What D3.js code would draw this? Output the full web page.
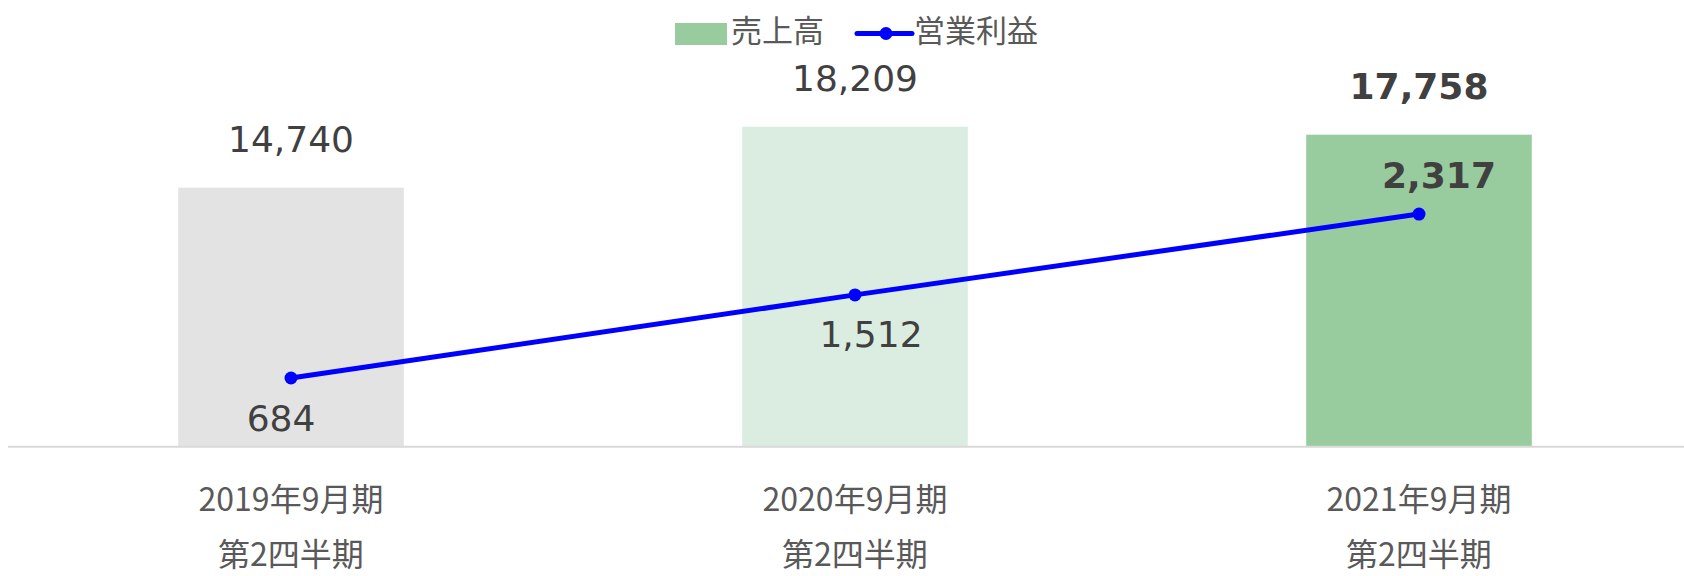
<!DOCTYPE html>
<html><head><meta charset="utf-8">
<script src="https://cdn.jsdelivr.net/npm/d3@7"></script>
<style>html,body{margin:0;padding:0;background:#fff;}svg{display:block;}</style>
</head><body>
<svg id="chart" width="1684" height="576"></svg>
<script>
const categories = ["2019年9月期|第2四半期", "2020年9月期|第2四半期", "2021年9月期|第2四半期"];
const sales = [14740, 18209, 17758];
const profit = [684, 1512, 2317];
const barColors = ["#e3e3e4", "#dbede1", "#98cb9e"];
const seriesNames = ["売上高", "営業利益"];
const boldLabel = [false, false, true];

const W = 1684, H = 576;
const svg = d3.select("#chart");
const x = d3.scaleBand().domain(categories).range([9, 1701]).paddingInner(0.6).paddingOuter(0.3);
const y = d3.scaleLinear().domain([0, 20000]).range([446.7, 95.3]);
const y2 = d3.scaleLinear().domain([0, 3500]).range([446.7, 95.3]);
const cx = c => x(c) + x.bandwidth() / 2;

// bars
svg.append("g").selectAll("rect").data(categories).join("rect")
  .attr("x", d => x(d)).attr("width", x.bandwidth())
  .attr("y", (d, i) => y(sales[i])).attr("height", (d, i) => y(0) - y(sales[i]))
  .attr("fill", (d, i) => barColors[i]);

// axis
const axis = d3.axisBottom(x).tickSize(0).tickFormat("");
const ag = svg.append("g").attr("transform", `translate(0,${y(0)})`).call(axis);
ag.select(".domain").remove();
svg.append("line").attr("x1", 8).attr("x2", W).attr("y1", y(0)).attr("y2", y(0))
  .attr("stroke", "#d9d9d9").attr("stroke-width", 2);

// category labels
const catG = svg.append("g");
categories.forEach(c => {
  const parts = c.split("|");
  const t = catG.append("text").attr("x", cx(c)).attr("text-anchor", "middle")
    .attr("font-family", "'Noto Sans CJK JP', sans-serif").attr("font-size", 32).attr("fill", "#595959");
  t.append("tspan").attr("x", cx(c)).attr("y", 511).text(parts[0]);
  t.append("tspan").attr("x", cx(c)).attr("y", 566).text(parts[1]);
});

// sales labels
svg.append("g").selectAll("text").data(categories).join("text")
  .attr("x", d => cx(d)).attr("y", (d, i) => y(sales[i]) - 36)
  .attr("text-anchor", "middle").attr("font-family", "'DejaVu Sans', Verdana, sans-serif")
  .attr("font-size", 36).attr("font-weight", (d, i) => boldLabel[i] ? "bold" : "normal")
  .attr("fill", "#404040").text((d, i) => d3.format(",")(sales[i]));

// line
const line = d3.line().x((d, i) => cx(categories[i])).y(d => y2(d));
svg.append("path").datum(profit).attr("d", line).attr("fill", "none")
  .attr("stroke", "#0000ff").attr("stroke-width", 5).attr("stroke-linejoin", "round");
svg.append("g").selectAll("circle").data(profit).join("circle")
  .attr("cx", (d, i) => cx(categories[i])).attr("cy", d => y2(d)).attr("r", 6.5).attr("fill", "#0000ff");

// profit labels
const pdx = [-10, 16, 20];
const pdy = [53, 52, -26];
svg.append("g").selectAll("text").data(profit).join("text")
  .attr("x", (d, i) => cx(categories[i]) + pdx[i]).attr("y", (d, i) => y2(d) + pdy[i])
  .attr("text-anchor", "middle").attr("font-family", "'DejaVu Sans', Verdana, sans-serif")
  .attr("font-size", 36).attr("font-weight", (d, i) => boldLabel[i] ? "bold" : "normal")
  .attr("fill", "#404040").text(d => d3.format(",")(d));

// legend
const lg = svg.append("g");
lg.append("rect").attr("x", 675).attr("y", 23).attr("width", 52).attr("height", 22).attr("fill", barColors[2]);
lg.append("text").attr("x", 731).attr("y", 42).attr("font-family", "'Noto Sans CJK JP', sans-serif")
  .attr("font-size", 31).attr("fill", "#595959").text(seriesNames[0]);
lg.append("line").attr("x1", 857).attr("x2", 912).attr("y1", 33.5).attr("y2", 33.5)
  .attr("stroke", "#0000ff").attr("stroke-width", 5).attr("stroke-linecap", "round");
lg.append("circle").attr("cx", 886).attr("cy", 33.5).attr("r", 6.5).attr("fill", "#0000ff");
lg.append("text").attr("x", 914).attr("y", 42).attr("font-family", "'Noto Sans CJK JP', sans-serif")
  .attr("font-size", 31).attr("fill", "#595959").text(seriesNames[1]);
</script>
</body></html>
